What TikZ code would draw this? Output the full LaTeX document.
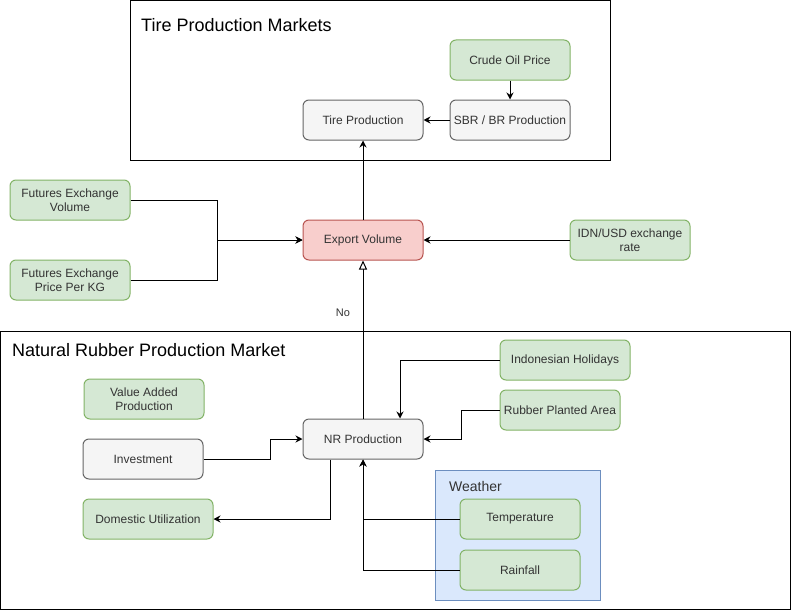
\documentclass[tikz,border=0pt]{standalone}
\usepackage{fontspec}
\setmainfont{Liberation Sans}
\usetikzlibrary{arrows.meta}
\definecolor{greenfill}{HTML}{D5E8D4}
\definecolor{greenline}{HTML}{82B366}
\definecolor{grayfill}{HTML}{F5F5F5}
\definecolor{grayline}{HTML}{666666}
\definecolor{redfill}{HTML}{F8CECC}
\definecolor{redline}{HTML}{B85450}
\definecolor{bluefill}{HTML}{DAE8FC}
\definecolor{blueline}{HTML}{6C8EBF}
\definecolor{txt}{HTML}{333333}
\tikzset{
  box/.style={rounded corners=6pt, minimum width=120pt, minimum height=40pt,
    align=center, font=\fontsize{12}{14}\selectfont, text=txt,
    line width=1pt, inner sep=2pt},
  greenbox/.style={box, draw=greenline, fill=greenfill},
  graybox/.style={box, draw=grayline, fill=grayfill},
  redbox/.style={box, draw=redline, fill=redfill},
  container/.style={draw=black, line width=1pt},
  title/.style={anchor=west, inner sep=0pt, text=black, font=\fontsize{18}{21}\selectfont},
  arr/.style={draw=black, line width=1pt, -{Stealth[length=7pt,width=7pt]}},
  openarr/.style={draw=black, line width=1pt, -{Triangle[open,length=9pt,width=8pt,fill=white]}},
}
\begin{document}
\begin{tikzpicture}[x=1pt,y=-1pt]
\useasboundingbox (0,0) rectangle (791,610);

% market containers
\draw[container] (130.5,0.5) rectangle (610,160);
\node[title] (tpm) at (141,25) {Tire Production Markets};
\draw[container] (0.5,331) rectangle (790,609.5);
\node[title] (nrpm) at (12,350) {Natural Rubber Production Market};

% weather group
\draw[draw=blueline, fill=bluefill, line width=1pt] (435,470) rectangle (600,600);
\node[title, text=txt, font=\fontsize{14}{17}\selectfont] (wt) at (449,486) {Weather};

% tire production market
\node[greenbox] (crude) at (510,60) {Crude Oil Price};
\node[graybox] (sbr) at (510,120) {SBR / BR Production};
\node[graybox] (tire) at (363,120) {Tire Production};

% export level
\node[redbox] (export) at (363,240) {Export Volume};
\node[greenbox] (fvol) at (70,200) {Futures Exchange\\Volume};
\node[greenbox] (fprice) at (70,280) {Futures Exchange\\Price Per KG};
\node[greenbox] (idn) at (630,240) {IDN/USD exchange\\rate};

% natural rubber production market
\node[greenbox, minimum width=130pt] (hol) at (565,360) {Indonesian Holidays};
\node[greenbox] (rpa) at (560,410) {Rubber Planted Area};
\node[greenbox] (vap) at (144,399) {Value Added\\Production};
\node[graybox] (inv) at (143,459) {Investment};
\node[graybox] (nr) at (363,439) {NR Production};
\node[greenbox, minimum width=130pt] (dom) at (148,519) {Domestic Utilization};
\node[greenbox] (temp) at (520,519) {Temperature};
\node[greenbox] (rain) at (520,570) {Rainfall};

% connectors
\coordinate (fj) at (217,240);
\draw[arr] (crude) -- (sbr);
\draw[arr] (sbr) -- (tire);
\draw[arr] (export) -- (tire);
\draw[arr] (fvol.east) -| (fj) -- (export.west);
\draw[arr] (fprice.east) -| (fj) -- (export.west);
\draw[arr] (idn) -- (export);
\draw[openarr] (nr) -- (export);
\node[font=\fontsize{11}{13}\selectfont, text=txt, inner sep=0pt] (no) at (343,313) {No};
\draw[arr] (hol.west) -| ([xshift=37pt]nr.north);
\draw[arr] (rpa.west) -- ++(-38,0) |- (nr.east);
\draw[arr] (inv.east) -- ++(67,0) |- (nr.west);
\draw[arr] ([xshift=-33pt]nr.south) |- (dom.east);
\draw[arr] (temp.west) -| (nr.south);
\draw[arr] (rain.west) -| (nr.south);
\end{tikzpicture}
\end{document}
